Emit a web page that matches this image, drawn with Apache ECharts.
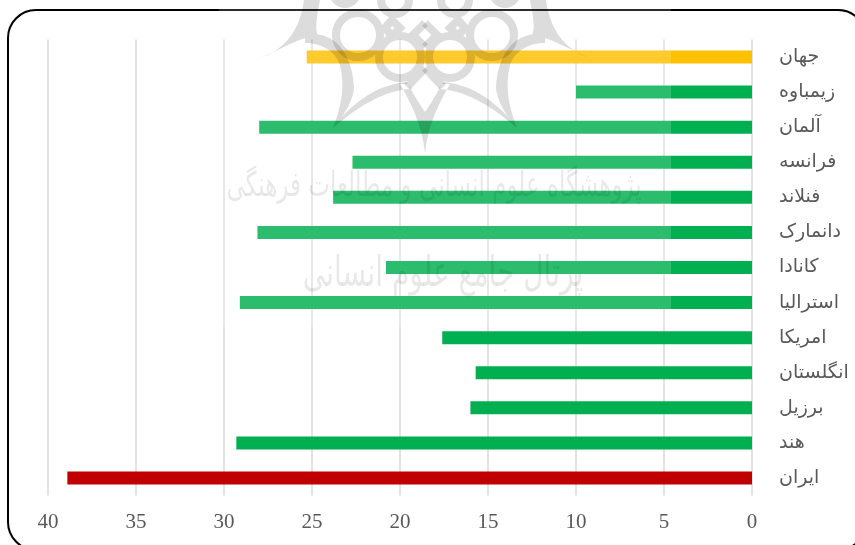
<!DOCTYPE html>
<html>
<head>
<meta charset="utf-8">
<style>
  html, body { margin: 0; padding: 0; background: #fff; overflow: hidden; }
  #chart { width: 855px; height: 545px; }
</style>
<script src="https://cdn.jsdelivr.net/npm/echarts@6/dist/echarts.min.js"></script>
</head>
<body>
<div id="chart"></div>
<script>
// از بالا به پایین، همان ترتیب نمودار
const countries = ['جهان', 'زیمباوه', 'آلمان', 'فرانسه', 'فنلاند', 'دانمارک', 'کانادا', 'استرالیا', 'امریکا', 'انگلستان', 'برزیل', 'هند', 'ایران']
const values = [25.3, 10.0, 28.0, 22.7, 23.8, 28.1, 20.8, 29.1, 17.6, 15.7, 16.0, 29.3, 38.9]
const tickValues = [0, 5, 10, 15, 20, 25, 30, 35, 40]
const watermarkLines = ['پژوهشگاه علوم انسانی و مطالعات فرهنگی', 'پرتال جامع علوم انسانی']

const barColor = name => name === 'جهان' ? '#FFC000' : name === 'ایران' ? '#C00000' : '#00B050'

// watermark logo, left half of the rosette (right half is mirrored)
const logoTips = 'M260 58 C285 50 300 30 304 0 L320 0 C316 20 315 30 318 35 C300 37 280 50 260 58 Z ' +
    'M305 35 C335 29 353 55 354 88 C353 100 345 115 333 128 C342 105 345 85 340 65 C335 50 320 43 305 43 Z ' +
    'M333 128 C350 105 375 85 406 82 L412 89 C385 90 360 105 333 128 Z ' +
    'M400 84 C412 105 422 125 425 153 L425 112 C420 105 414 95 408 84 Z'
const ring = (x, y, r) => `M${x - r} ${y} A${r} ${r} 0 1 0 ${x + r} ${y} A${r} ${r} 0 1 0 ${x - r} ${y} Z `
const logoLines = ring(358, 35, 22) + ring(400, 57, 21) + ring(395, 0, 14) + ring(345, -8, 12) +
    'M425 23 L413 35 L425 47 M385 28 L392 20 L400 28 L392 36 Z M407 87 L425 68'
echarts.graphic.registerShape('logoTips', echarts.graphic.extendPath(logoTips, {}))
echarts.graphic.registerShape('logoLines', echarts.graphic.extendPath(logoLines, {}))

const chart = echarts.init(document.getElementById('chart'))
const textGray = '#595959'
const logoGray = '#dcdcdc'
const mirror = { x: 850, scaleX: -1 }

const logoPart = (type, extra) => ({
    type,
    z: 103,
    silent: true,
    style: Object.assign({ blend: 'multiply' }, type === 'logoTips'
        ? { fill: logoGray }
        : { fill: 'none', stroke: logoGray, lineWidth: 8 }),
    ...extra
})

chart.setOption({
    animation: false,
    backgroundColor: '#fff',
    grid: { left: 48, right: 103, top: 39.5, height: 456 },
    xAxis: {
        type: 'value',
        inverse: true,
        min: tickValues[0],
        max: tickValues[tickValues.length - 1],
        interval: 5,
        axisLine: { show: false },
        axisTick: { show: false },
        axisLabel: {
            color: textGray,
            fontFamily: 'Liberation Serif',
            fontSize: 21,
            margin: 16
        },
        splitLine: { lineStyle: { color: '#D9D9D9', width: 1.5 } }
    },
    yAxis: {
        type: 'category',
        inverse: true,
        position: 'right',
        data: countries,
        axisLine: { show: false },
        axisTick: { show: false },
        axisLabel: {
            color: textGray,
            fontFamily: 'Liberation Serif, DejaVu Sans',
            fontSize: 19,
            align: 'left',
            margin: 27,
            padding: [11, 0, 0, 0]
        }
    },
    series: [{
        type: 'bar',
        barWidth: 13,
        data: countries.map((name, i) => ({
            value: values[i],
            itemStyle: { color: barColor(name) }
        }))
    }],
    graphic: {
        elements: [
            // rounded frame, runs off the right and bottom of the picture
            {
                type: 'rect',
                z: 100,
                silent: true,
                shape: { x: 8, y: 10, width: 858, height: 540, r: 28 },
                style: { fill: 'none', stroke: '#000', lineWidth: 2 }
            },
            // the pasted watermark image whitens whatever lies under it
            {
                type: 'rect',
                z: 101,
                silent: true,
                shape: { x: 219, y: 0, width: 452, height: 325 },
                style: { fill: 'rgba(255,255,255,0.17)' }
            },
            logoPart('logoTips'),
            logoPart('logoTips', mirror),
            logoPart('logoLines'),
            logoPart('logoLines', mirror),
            {
                type: 'text',
                z: 103,
                silent: true,
                x: 434,
                y: 187,
                scaleY: 1.5,
                style: {
                    text: watermarkLines[0],
                    fill: 'rgba(0,0,0,0.09)',
                    font: '23px "DejaVu Sans"',
                    align: 'center',
                    verticalAlign: 'middle'
                }
            },
            {
                type: 'text',
                z: 103,
                silent: true,
                x: 443,
                y: 275,
                scaleY: 1.5,
                style: {
                    text: watermarkLines[1],
                    fill: 'rgba(0,0,0,0.09)',
                    font: '28px "DejaVu Sans"',
                    align: 'center',
                    verticalAlign: 'middle'
                }
            }
        ]
    }
})
</script>
</body>
</html>
